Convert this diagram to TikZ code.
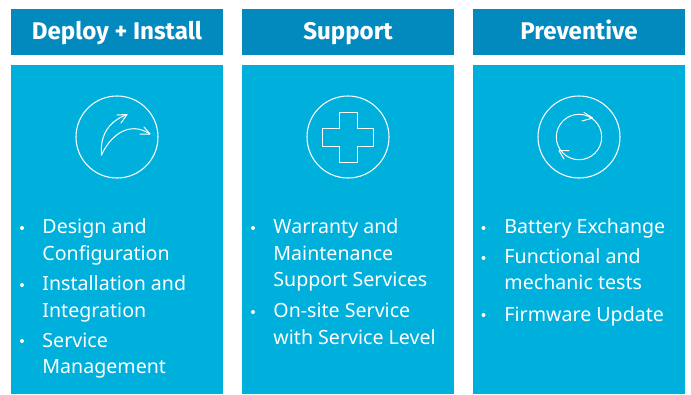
\documentclass[tikz,border=0pt]{standalone}
\usepackage{fontspec}
\setmainfont{Noto Sans}
\newfontfamily\headfont{Fira Sans}
\definecolor{headblue}{HTML}{028ABF}
\definecolor{bodyblue}{HTML}{00B0DC}
\tikzset{
  x=0.75pt,y=-0.75pt,
  headbox/.style={fill=headblue,draw=none,minimum width=159pt,minimum height=34.5pt,inner sep=0pt,text height=14.5pt,text depth=4pt,text=white,font=\headfont\fontsize{18.1}{20}\selectfont\bfseries},
  bodybox/.style={fill=bodyblue,draw=none,minimum width=159pt,minimum height=246.75pt,inner sep=0pt},
  ring/.style={circle,draw=white,line width=0.8pt,minimum size=61.5pt,inner sep=0pt},
  glyph/.style={draw=white,line width=0.75pt,line cap=round,line join=round},
  item/.style={anchor=base west,inner sep=0pt,text=white,font=\fontsize{14.7}{18}\selectfont},
  dotmark/.style={circle,fill=white,inner sep=0pt,minimum size=3pt}
}
\begin{document}
\begin{tikzpicture}
\useasboundingbox (0,0) rectangle (691,394);
\fill[white] (0,0) rectangle (691,394);
\foreach \nm/\cx/\ttl in {a/117/Deploy + Install,b/348/Support,c/579/Preventive}{
  \node[headbox] (head\nm) at (\cx,32) {\ttl};
  \node[bodybox] (body\nm) at (\cx,229.5) {};
  \node[ring] (ring\nm) at (\cx,137) {};
}
% arrows
\draw[glyph] (101.5,155) .. controls (100,137) and (107,122) .. (127,114.5);
\draw[glyph] (101.5,155) .. controls (110,136) and (129,120) .. (150,134);
\draw[glyph] (117,115) -- (127,114.5) -- (121,123);
\draw[glyph] (144,127) -- (150,134) -- (140,134);
% cross
\draw[glyph] (339,112) -- (357,112) -- (357,128) -- (373,128) -- (373,146) -- (357,146) -- (357,162) -- (339,162) -- (339,146) -- (322.7,146) -- (322.7,128) -- (339,128) -- cycle;
% cycle
\draw[glyph] (579,137) circle (22.7);
\draw[glyph] (584,112.5) -- (592.7,118) -- (582,121);
\draw[glyph] (569,150.7) -- (559,150.7) -- (564,159);
% items
\foreach \px/\py/\txt in {
 42.2/233/Design and,42.2/260/Configuration,42.2/290/Installation and,42.2/317/Integration,42.2/347/Service,42.2/373/Management,
 273.2/233/Warranty and,273.2/260/Maintenance,273.2/286/Support Services,273.2/317/On-site Service,273.2/344/with Service Level,
 504.2/233/Battery Exchange,504.2/263/Functional and,504.2/289/mechanic tests,504.2/321/Firmware Update}{
  \node[item] (t\py\px) at (\px,\py) {\txt};
}
\foreach \px/\py in {22/228,22/285,22/341,253/228,253/312,483.5/228,483.5/258,483.5/315}{
  \node[dotmark] (d\px\py) at (\px,\py) {};
}
\end{tikzpicture}
\end{document}
